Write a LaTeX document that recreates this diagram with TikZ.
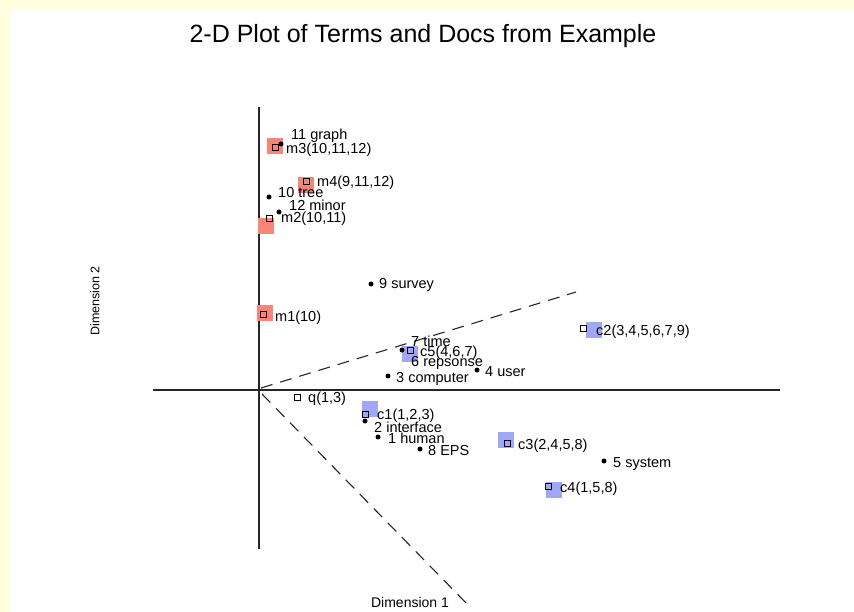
\documentclass[tikz,border=0pt]{standalone}
\usepackage{fontspec}
\setmainfont{Liberation Sans}
\definecolor{bgyel}{RGB}{255,255,222}
\definecolor{hlr}{RGB}{246,134,122}
\definecolor{hlb}{RGB}{160,168,245}
\newcommand\lab[4]{\node[lbl] (#1) at (#2,#3+5) {#4};}
\begin{document}
\begin{tikzpicture}[x=1pt,y=-1pt,
  lbl/.style={anchor=base west,inner sep=0pt,font=\fontsize{14.5}{16}\selectfont},
  termdot/.style={circle,fill=black,inner sep=0pt,minimum size=5pt},
  docsq/.style={draw=black,line width=0.9pt,inner sep=0pt,minimum size=6pt},
  hlred/.style={fill=hlr,inner sep=0pt,minimum size=16pt},
  hlblue/.style={fill=hlb,inner sep=0pt,minimum size=16pt},
  axisline/.style={line width=1.1pt,draw=black!85},
  dashline/.style={line width=1.1pt,draw=black!85,dash pattern=on 12pt off 8pt}
]
\useasboundingbox (0,0) rectangle (854,612);
\fill[bgyel] (0,0) rectangle (854,612);
\fill[white] (10,9) rectangle (854,612);

% title and axis names
\node[font=\fontsize{25}{29}\selectfont] (title) at (423,36) {2-D Plot of Terms and Docs from Example};
\node[font=\fontsize{12.5}{14}\selectfont,rotate=90] (dim2) at (95,301) {Dimension 2};
\node[font=\fontsize{14}{16}\selectfont] (dim1) at (410,602) {Dimension 1};

% axes
\coordinate (O) at (259,390);
\coordinate (xl) at (153,390);
\coordinate (xr) at (780,390);
\coordinate (yt) at (259,107);
\coordinate (yb) at (259,549);
\coordinate (d1s) at (261,388);
\coordinate (d1e) at (576,292);
\coordinate (d2s) at (262,394);
\coordinate (d2e) at (470,607);
\draw[axisline] (xl) -- (xr);
\draw[axisline] (yt) -- (yb);
\draw[dashline] (d1s) -- (d1e);
\draw[dashline] (d2s) -- (d2e);

% highlights
\node[hlred] (hm3) at (275,146) {};
\node[hlred] (hm4) at (306,185) {};
\node[hlred] (hm2) at (266,226) {};
\node[hlred] (hm1) at (265,313) {};
\node[hlblue] (hc2) at (594,330) {};
\node[hlblue] (hc5) at (410,354) {};
\node[hlblue] (hc1) at (370,409) {};
\node[hlblue] (hc3) at (506,440) {};
\node[hlblue] (hc4) at (554,490) {};

% document squares
\node[docsq] (m3) at (275,147) {};
\node[docsq] (m4) at (306,181) {};
\node[docsq] (m2) at (269,218) {};
\node[docsq] (m1) at (263,314) {};
\node[docsq] (c2) at (583,328) {};
\node[docsq] (c5) at (410,350) {};
\node[docsq] (c1) at (365,414) {};
\node[docsq] (c3) at (507,443) {};
\node[docsq] (c4) at (548,486) {};
\node[docsq] (q) at (297,397) {};

% term dots
\node[termdot] (t11) at (281,144) {};
\node[termdot] (t10) at (269,197) {};
\node[termdot] (t12) at (279,212) {};
\node[termdot] (t9) at (371,284) {};
\node[termdot] (t7) at (402,350) {};
\node[termdot] (t4) at (477,370) {};
\node[termdot] (t3) at (388,376) {};
\node[termdot] (t2) at (365,421) {};
\node[termdot] (t1) at (378,437) {};
\node[termdot] (t8) at (420,449) {};
\node[termdot] (t5) at (604,461) {};

% labels
\lab{l11}{291}{135}{11 graph}
\lab{lm3}{286}{149}{m3(10,11,12)}
\lab{lm4}{317}{182}{m4(9,11,12)}
\lab{l10}{278}{193}{10 tree}
\lab{l12}{289}{206}{12 minor}
\lab{lm2}{281}{218}{m2(10,11)}
\lab{l9}{379}{284}{9 survey}
\lab{lm1}{275}{316}{m1(10)}
\lab{lc2}{596}{330}{c2(3,4,5,6,7,9)}
\lab{l7}{411}{341}{7 time}
\lab{lc5}{420}{351}{c5(4,6,7)}
\lab{l6}{411}{361}{6 repsonse}
\lab{l4}{485}{371}{4 user}
\lab{l3}{396}{377}{3 computer}
\lab{lq}{308}{397}{q(1,3)}
\lab{lc1}{377}{414}{c1(1,2,3)}
\lab{l2}{374}{427}{2 interface}
\lab{l1}{388}{438}{1 human}
\lab{l8}{428}{450}{8 EPS}
\lab{lc3}{518}{444}{c3(2,4,5,8)}
\lab{l5}{613}{462}{5 system}
\lab{lc4}{560}{487}{c4(1,5,8)}
\end{tikzpicture}
\end{document}
